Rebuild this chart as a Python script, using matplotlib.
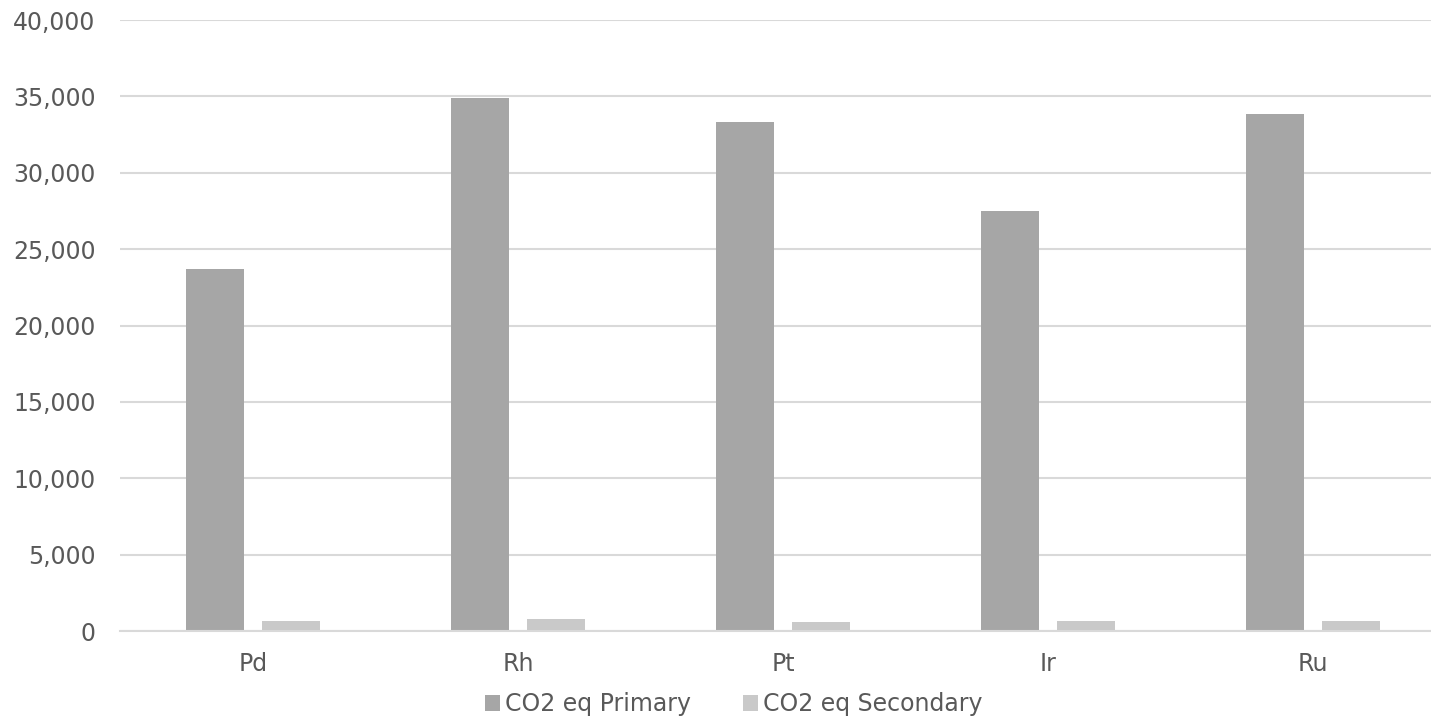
import numpy as np
import matplotlib.pyplot as plt

# CO2 equivalent per metal, primary vs secondary production
metals = ['Pd', 'Rh', 'Pt', 'Ir', 'Ru']
co2_primary = [23700, 34900, 33300, 27500, 33850]
co2_secondary = [680, 780, 590, 680, 680]

text_color = '#595959'
grid_color = '#d9d9d9'
plt.rcParams['font.family'] = ['DejaVu Sans']

fig = plt.figure(figsize=(14.31, 7.2), dpi=100)
ax = fig.add_axes([0.0842, 0.1236, 0.926, 0.8486])

x = np.arange(len(metals))
width = 0.22
ax.bar(x - 0.143, co2_primary, width, color='#a6a6a6', label='CO2 eq Primary', zorder=3)
ax.bar(x + 0.143, co2_secondary, width, color='#c9c9c9', label='CO2 eq Secondary', zorder=3)

ax.set_xlim(-0.5, len(metals) - 0.5)
ax.set_ylim(0, 40000)
ax.set_yticks(np.arange(0, 40001, 5000))
ax.yaxis.set_major_formatter(plt.FuncFormatter(lambda v, p: f'{int(v):,}'))
ax.set_xticks(x)
ax.set_xticklabels(metals)

ax.grid(axis='y', color=grid_color, linewidth=1.5, zorder=0)
for side in ['top', 'right', 'left']:
    ax.spines[side].set_visible(False)
ax.spines['bottom'].set_color(grid_color)
ax.spines['bottom'].set_linewidth(1.5)
ax.spines['bottom'].set_zorder(4)

ax.tick_params(axis='y', length=0, pad=18, labelsize=17, labelcolor=text_color)
ax.tick_params(axis='x', length=0, pad=15, labelsize=17, labelcolor=text_color)

fig.legend(loc='center', bbox_to_anchor=(0.5125, 0.022), ncol=2, frameon=False,
           fontsize=17, labelcolor=text_color, handlelength=0.65, handleheight=0.65,
           handletextpad=0.2, columnspacing=2.2)

plt.savefig('out.png', dpi=100)
